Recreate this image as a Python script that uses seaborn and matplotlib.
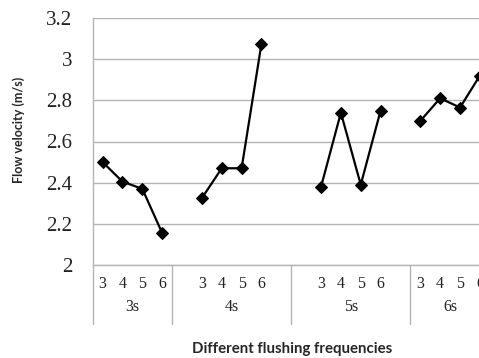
import matplotlib
matplotlib.use("Agg")
import matplotlib.pyplot as plt
import matplotlib.transforms as mtransforms
import pandas as pd
import seaborn as sns

# flushing frequency groups and sub-categories
groups = ["3s", "4s", "5s", "6s"]
subcats = ["3", "4", "5", "6"]
v_3s = [2.50, 2.405, 2.37, 2.155]
v_4s = [2.325, 2.47, 2.47, 3.075]
v_5s = [2.38, 2.74, 2.39, 2.75]
v_6s = [2.70, 2.81, 2.765, 2.92]
values = [v_3s, v_4s, v_5s, v_6s]

# category slots per group (Excel-style blank rows around the middle groups)
slots = [4, 6, 6, 4]
lead_blank = [0, 1, 1, 0]

GRID = "#b4b4b4"

rows = []
start = 0
bounds = [-0.5]
centers = []
for g, n, lb, vals in zip(groups, slots, lead_blank, values):
    for i, (s, v) in enumerate(zip(subcats, vals)):
        rows.append({"group": g, "sub": s, "pos": start + lb + i, "v": v})
    centers.append(start + lb + (len(subcats) - 1) / 2)
    start += n
    bounds.append(start - 0.5)
df = pd.DataFrame(rows)

sns.set_style("white")
fig = plt.figure(figsize=(4.79, 3.58), dpi=100)
ax = fig.add_axes([92.7 / 479, 93 / 358, (489.8 - 92.7) / 479, 247 / 358])

sns.lineplot(data=df, x="pos", y="v", units="group", estimator=None,
             color="black", marker="D", markersize=5.8, linewidth=1.6,
             markeredgecolor="black", ax=ax, legend=False)

ax.set_xlim(bounds[0], bounds[-1])
ax.set_ylim(2, 3.2)
ax.set_yticks([2, 2.2, 2.4, 2.6, 2.8, 3, 3.2])
ax.set_yticklabels(["2", "2.2", "2.4", "2.6", "2.8", "3", "3.2"])
ax.yaxis.grid(True, color=GRID, linewidth=1)
ax.set_axisbelow(True)
for side in ["top", "right"]:
    ax.spines[side].set_visible(False)
for side in ["left", "bottom"]:
    ax.spines[side].set_color(GRID)
    ax.spines[side].set_linewidth(1)

ax.set_xticks(df["pos"])
ax.set_xticklabels(df["sub"])
ax.tick_params(axis="x", length=0, pad=8, labelsize=11.5, labelcolor="#222222")
ax.tick_params(axis="y", length=4.5, color=GRID, pad=10, labelsize=15, labelcolor="#222222")
for lab in ax.get_xticklabels() + ax.get_yticklabels():
    lab.set_fontfamily("Liberation Serif")

trans = mtransforms.blended_transform_factory(ax.transData, ax.transAxes)
drop = -(324 - 265) / 247
for b in bounds:
    ax.plot([b, b], [0, drop], color=GRID, linewidth=1, transform=trans, clip_on=False)
for g, c in zip(groups, centers):
    ax.text(c, -(306.7 - 265) / 247, g, transform=trans, ha="center", va="center",
            fontsize=11.5, fontfamily="Liberation Serif", color="#222222")

ax.set_xlabel("")
ax.set_ylabel("")
fig.text(292.5 / 479, 1 - 349 / 358, "Different flushing frequencies", ha="center", va="center",
         fontsize=10.8, fontweight="bold", fontfamily="Lato")
fig.text(19 / 479, 1 - 130 / 358, "Flow velocity (m/s)", ha="center", va="center", rotation=90,
         fontsize=9, fontweight="bold", fontfamily="Lato")

fig.savefig("out.png", dpi=100)
